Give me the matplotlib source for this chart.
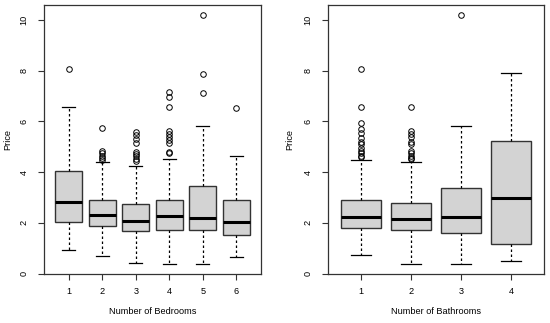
import matplotlib
matplotlib.use("Agg")
import matplotlib.pyplot as plt

plt.rcParams["font.family"] = ["Liberation Sans", "DejaVu Sans"]

# Bedrooms panel
bed_labels = ["1", "2", "3", "4", "5", "6"]
bed_whislo = [0.94, 0.70, 0.43, 0.37, 0.38, 0.66]
bed_q1 = [2.03, 1.87, 1.69, 1.73, 1.70, 1.50]
bed_med = [2.82, 2.32, 2.08, 2.27, 2.17, 2.04]
bed_q3 = [4.03, 2.91, 2.74, 2.89, 3.45, 2.90]
bed_whishi = [6.55, 4.40, 4.23, 4.52, 5.81, 4.62]
bed_fliers = [
    [8.06],
    [5.72, 4.85, 4.75, 4.65, 4.55, 4.47],
    [5.58, 5.45, 5.30, 5.15, 4.78, 4.70, 4.62, 4.52, 4.42],
    [7.15, 6.95, 6.58, 5.60, 5.50, 5.40, 5.28, 5.15, 4.80, 4.75],
    [10.20, 7.88, 7.10],
    [6.51],
]

# Bathrooms panel
bath_labels = ["1", "2", "3", "4"]
bath_whislo = [0.74, 0.37, 0.38, 0.50]
bath_q1 = [1.80, 1.71, 1.61, 1.16]
bath_med = [2.21, 2.16, 2.21, 2.99]
bath_q3 = [2.89, 2.79, 3.37, 5.22]
bath_whishi = [4.48, 4.40, 5.81, 7.89]
bath_fliers = [
    [8.06, 6.55, 5.95, 5.70, 5.55, 5.35, 5.20, 5.10, 4.95, 4.85, 4.75, 4.65, 4.58],
    [6.58, 5.60, 5.50, 5.40, 5.20, 5.10, 4.85, 4.75, 4.65, 4.55, 4.50],
    [10.20],
    [],
]

y_ticks = [0, 2, 4, 6, 8, 10]


def make_stats(labels, lo, q1, med, q3, hi, fl):
    return [dict(label=l, whislo=a, q1=b, med=c, q3=d, whishi=e, fliers=f)
            for l, a, b, c, d, e, f in zip(labels, lo, q1, med, q3, hi, fl)]


fig = plt.figure(figsize=(5.5, 3.23), dpi=100)
ax1 = fig.add_axes([44 / 550, 1 - 273.5 / 323, (261 - 44) / 550, (273.5 - 4.7) / 323])
ax2 = fig.add_axes([328 / 550, 1 - 273.5 / 323, (544 - 328) / 550, (273.5 - 4.7) / 323])

edge = "#333333"
fs = 6.6
for ax, stats, labels, xlabel, ylab_x in [
    (ax1, make_stats(bed_labels, bed_whislo, bed_q1, bed_med, bed_q3, bed_whishi, bed_fliers),
     bed_labels, "Number of Bedrooms", -0.168),
    (ax2, make_stats(bath_labels, bath_whislo, bath_q1, bath_med, bath_q3, bath_whishi, bath_fliers),
     bath_labels, "Number of Bathrooms", -0.176),
]:
    n = len(stats)
    ax.bxp(stats, widths=0.8, patch_artist=True, showfliers=True,
           boxprops=dict(facecolor="#D3D3D3", edgecolor=edge, linewidth=1.0),
           medianprops=dict(color="black", linewidth=2.2, solid_capstyle="butt"),
           whiskerprops=dict(color="black", linewidth=0.9, linestyle=(0, (2, 2))),
           capprops=dict(color="black", linewidth=0.9),
           capwidths=0.4,
           flierprops=dict(marker="o", markersize=4, markerfacecolor="none",
                           markeredgecolor="black", markeredgewidth=0.7, linestyle="none"))
    ax.set_xlim(0.5 - 0.04 * n, n + 0.5 + 0.04 * n)
    ax.set_ylim(0, 10.6)
    ax.set_yticks(y_ticks)
    ax.set_yticklabels([str(t) for t in y_ticks], rotation=90, va="center")
    ax.set_xticks(range(1, n + 1))
    ax.set_xticklabels(labels)
    ax.tick_params(axis="both", direction="out", length=4, width=0.8, color=edge,
                   labelsize=fs)
    ax.tick_params(axis="x", pad=6)
    ax.tick_params(axis="y", pad=7)
    for s in ax.spines.values():
        s.set_color(edge)
        s.set_linewidth(0.9)
    ax.set_xlabel(xlabel, fontsize=fs)
    ax.xaxis.set_label_coords(0.5, -0.143)
    ax.xaxis.label.set_va("center")
    ax.set_ylabel("Price", fontsize=fs)
    ax.yaxis.set_label_coords(ylab_x, 0.5)
    ax.yaxis.label.set_va("center")

fig.savefig("out.png", dpi=100)
